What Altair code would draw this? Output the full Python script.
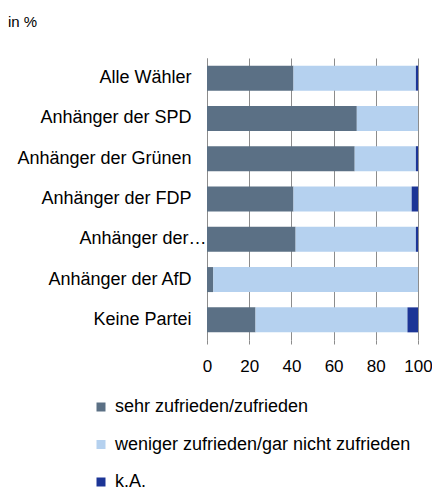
import altair as alt
import pandas as pd

groups = ["Alle Wähler", "Anhänger der SPD", "Anhänger der Grünen", "Anhänger der FDP",
          "Anhänger der…", "Anhänger der AfD", "Keine Partei"]
series = ["sehr zufrieden/zufrieden", "weniger zufrieden/gar nicht zufrieden", "k.A."]
zufrieden = [41, 71, 70, 41, 42, 3, 23]
nicht_zufrieden = [58, 29, 29, 56, 57, 97, 72]
ka = [1, 0, 1, 3, 1, 0, 5]
colors = ["#5b7085", "#b5d1ef", "#1c3596"]

rows = []
for i, g in enumerate(groups):
    for j, (s, vals) in enumerate(zip(series, [zufrieden, nicht_zufrieden, ka])):
        rows.append({"Gruppe": g, "Serie": s, "Wert": vals[i], "ord": j})
df = pd.DataFrame(rows)

FONT = "Liberation Sans"

chart = alt.Chart(df).mark_bar(size=25).encode(
    y=alt.Y("Gruppe:N", sort=groups, title=None,
            axis=alt.Axis(labelFontSize=18, labelColor="#000000", labelFont=FONT,
                          ticks=False, domainColor="#8c8c8c", labelLimit=220,
                          labelPadding={"condition": {"test": "datum.value == 'Anhänger der…'", "value": 1},
                                        "value": 16})),
    x=alt.X("Wert:Q", stack="zero", scale=alt.Scale(domain=[0, 100], nice=False), title=None,
            axis=alt.Axis(values=[0, 20, 40, 60, 80, 100], labelFontSize=17, labelColor="#000000",
                          labelFont=FONT, domain=False, gridColor="#8c8c8c", labelFlush=False,
                          labelOverlap=False, tickColor="#8c8c8c", tickSize=4, labelPadding=14)),
    color=alt.Color("Serie:N", sort=series, scale=alt.Scale(domain=series, range=colors),
                    legend=alt.Legend(title=None, orient="none", legendX=-115, legendY=340,
                                      direction="vertical", symbolType="square", symbolSize=81,
                                      symbolStrokeWidth=0, labelFontSize=18, labelFont=FONT,
                                      labelColor="#000000", rowPadding=19.5, labelOffset=5,
                                      labelLimit=400)),
    order=alt.Order("ord:Q"),
).properties(
    width=211, height=282,
    title=alt.TitleParams("in %", anchor="start", frame="group", dx=-199, offset=28,
                          fontSize=15, fontWeight="normal", font=FONT, color="#000000"),
    autosize=alt.AutoSizeParams(type="none"),
    padding={"left": 199, "top": 50, "right": 14, "bottom": 160},
).configure_view(stroke=None)

chart.save("out.html", embed_options={"renderer": "svg", "actions": False})
